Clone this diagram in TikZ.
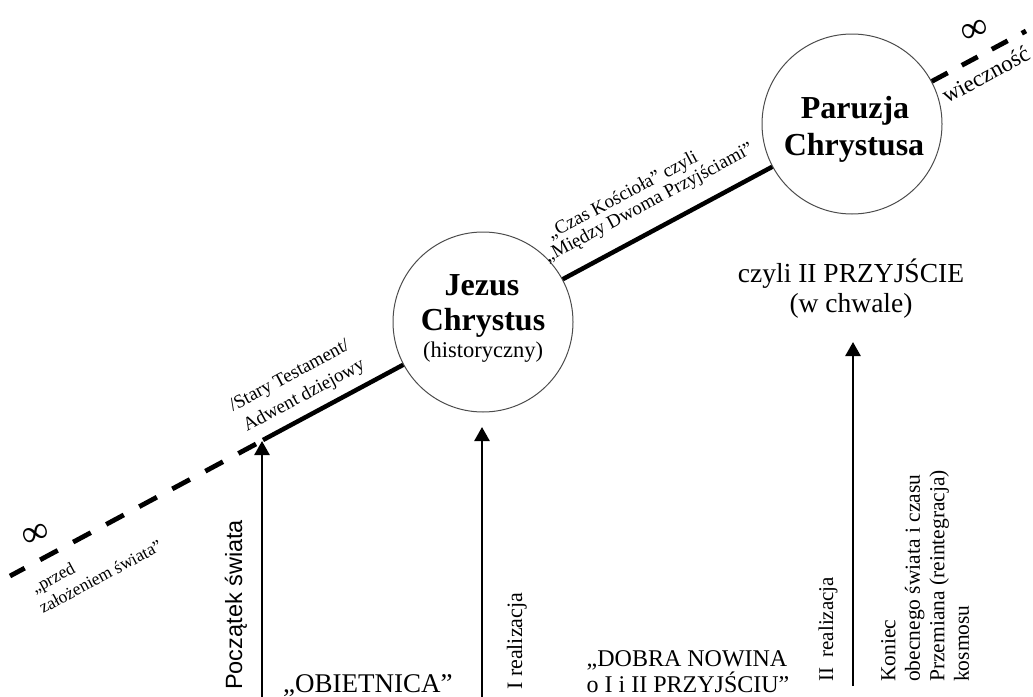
\documentclass[tikz,border=0pt]{standalone}
\usepackage{fontspec}
\setmainfont{Liberation Serif}
\setsansfont{Liberation Sans}
\usetikzlibrary{arrows.meta}
\newcommand\myfs[2]{\fontsize{#1}{#2}\selectfont}
\begin{document}
\begin{tikzpicture}[x=1pt,y=-1pt,
  circ/.style={circle,draw=black!70,line width=1pt,minimum size=180pt,inner sep=0pt},
  tline/.style={line width=4.5pt},
  tdash/.style={line width=4.8pt,dash pattern=on 20pt off 17.5pt},
  arr/.style={line width=2.6pt,-{Triangle[length=14pt,width=15pt]}},
  lbl/.style={inner sep=0pt},
  rl/.style={lbl,rotate=28.2,anchor=base west},
  vl/.style={lbl,rotate=90,anchor=base west},
  bigb/.style={lbl,anchor=base,font={\myfs{32}{36}\bfseries}}
]
\useasboundingbox (0,0) rectangle (1033,696);
\clip (0,0) rectangle (1033,696);
% circles
\node[circ] (jc) at (483,322) {};
\node[circ] (pc) at (852,124) {};
% timeline
\coordinate (L0) at (10,576);
\coordinate (S0) at (263,440);
\coordinate (D0) at (256,444);
\coordinate (R0) at (1026,31);
\draw[tdash] (D0) -- (L0);
\draw[tline] (S0) -- (jc);
\draw[tline] (jc) -- (pc);
\draw[tdash,dash pattern=on 18pt off 16pt] (pc) -- (R0);
% circle texts
\node[bigb] (jc1) at (482,295) {Jezus};
\node[bigb] (jc2) at (483,330) {Chrystus};
\node[lbl,anchor=base,font={\myfs{22.5}{26}}] (jc3) at (483,357) {(historyczny)};
\node[bigb] (pc1) at (855,118) {Paruzja};
\node[bigb] (pc2) at (854,155) {Chrystusa};
% arrows
\coordinate (a1b) at (262,700); \coordinate (a1t) at (262,441);
\coordinate (a2b) at (482,700); \coordinate (a2t) at (482,427);
\coordinate (a3b) at (853,686); \coordinate (a3t) at (853,342);
\draw[arr] (a1b) -- (a1t);
\draw[arr] (a2b) -- (a2t);
\draw[arr] (a3b) -- (a3t);
% infinity
\node[lbl,rotate=20,font={\myfs{38}{40}}] (inf1) at (36,535) {∞};
\node[lbl,rotate=20,font={\myfs{38}{40}}] (inf2) at (975,31) {∞};
% rotated labels
\node[rl,font={\myfs{17.5}{20}}] (pr1) at (35,594) {„przed};
\node[rl,font={\myfs{17.5}{20}}] (pr2) at (43,614) {założeniem świata”};
\node[rl,font={\myfs{19}{22}}] (st1) at (233,412) {/Stary Testament/};
\node[rl,font={\myfs{19}{22}}] (st2) at (247,432) {Adwent dziejowy};
\node[rl,font={\myfs{19}{21}}] (cz1) at (551,240) {„Czas Kościoła” czyli};
\node[rl,font={\myfs{19}{21}}] (cz2) at (548,263) {„Między Dwoma Przyjściami”};
\node[rl,font={\myfs{23}{26}}] (wi) at (947,104) {wieczność};
% horizontal labels
\node[lbl,anchor=base,font={\myfs{27.5}{30}}] (cy1) at (851,282) {czyli II PRZYJŚCIE};
\node[lbl,anchor=base,font={\myfs{27.5}{30}}] (cy2) at (851,312) {(w chwale)};
\node[lbl,anchor=base west,font={\myfs{27}{28}}] (ob) at (283,692) {„OBIETNICA”};
\node[lbl,anchor=base,font={\myfs{24}{26}}] (db1) at (687,666) {„DOBRA NOWINA};
\node[lbl,anchor=base,font={\myfs{24}{26}}] (db2) at (688,692) {o I i II PRZYJŚCIU”};
% vertical labels
\node[vl,font={\sffamily\myfs{23.5}{26}}] (ps) at (242,690) {Początek świata};
\node[vl,font={\myfs{22}{24}}] (ir) at (522,690) {I realizacja};
\node[vl,font={\myfs{21}{24}}] (iir) at (833,682) {II\ \ realizacja};
\node[lbl,rotate=90,anchor=north west,align=left,font={\myfs{21.5}{24.5}}] (kon) at (881,682)
  {Koniec\\obecnego świata i czasu\\Przemiana (reintegracja)\\kosmosu};
\end{tikzpicture}
\end{document}
